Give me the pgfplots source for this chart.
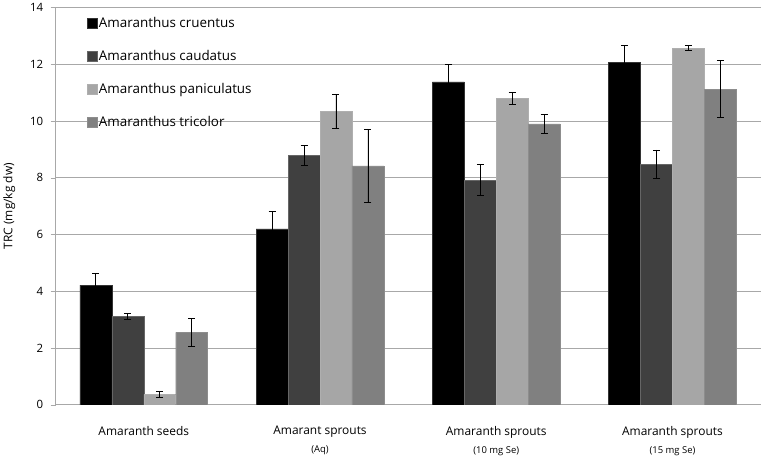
\documentclass[border=0pt]{standalone}
\usepackage{pgfplots}
\pgfplotsset{compat=1.18}
\usepackage{pgfplotstable}
\usepackage{fontspec}
\setmainfont{Open Sans}
\definecolor{cA}{HTML}{000000}
\definecolor{cB}{HTML}{404040}
\definecolor{cC}{HTML}{A6A6A6}
\definecolor{cD}{HTML}{808080}
\definecolor{gridc}{HTML}{A8A8A8}
\newcommand{\fsT}{\fontsize{11.5}{13}\selectfont}
\newcommand{\fsL}{\fontsize{13.5}{16}\selectfont}
\newcommand{\fsX}{\fontsize{12}{14}\selectfont}
\newcommand{\fsS}{\fontsize{9.5}{11}\selectfont}
\pgfplotstableread{
x y e
0 4.22 0.40
1 6.20 0.60
2 11.38 0.60
3 12.07 0.60
}\cruentus
\pgfplotstableread{
x y e
0 3.12 0.10
1 8.78 0.35
2 7.92 0.55
3 8.48 0.50
}\caudatus
\pgfplotstableread{
x y e
0 0.37 0.11
1 10.35 0.60
2 10.80 0.20
3 12.57 0.10
}\paniculatus
\pgfplotstableread{
x y e
0 2.55 0.50
1 8.42 1.30
2 9.90 0.33
3 11.12 1.00
}\tricolor
\begin{document}
\begin{tikzpicture}[x=1bp,y=1bp]
\begin{axis}[
  scale only axis,
  width=706bp, height=398bp,
  ybar=0pt, bar width=32bp,
  xmin=-0.5, xmax=3.5,
  ymin=0, ymax=14,
  ytick={0,2,...,14},
  xtick=data,
  xticklabels={{Amaranth seeds\\[4bp]{\fsS\phantom{(Aq)}}},{Amarant sprouts\\[4bp]{\fsS (Aq)}},{Amaranth sprouts\\[4bp]{\fsS (10 mg Se)}},{Amaranth sprouts\\[4bp]{\fsS (15 mg Se)}}},
  xticklabel style={align=center, font=\fsX, yshift=-13bp},
  yticklabel style={font=\fsT, xshift=-4bp},
  /pgf/number format/assume math mode=true,
  axis x line=bottom, axis y line=left,
  axis line style={gridc, -},
  x axis line style={draw=none},
  xtick style={draw=none},
  ytick style={gridc},
  tick align=outside,
  major tick length=5bp,
  ymajorgrids,
  grid style={gridc, line width=0.8bp},
  ylabel={TRC (mg/kg dw)},
  ylabel style={font=\fsX, yshift=8bp},
  legend style={at={(0.04,0.985)}, anchor=north west, draw=none, fill=none,
    font=\fsL, row sep=18.5bp, nodes={inner sep=1.5bp}},
  legend cell align=left,
  legend image code/.code={\fill[#1] (0bp,-5bp) rectangle (10bp,5bp);},
  error bars/y dir=both, error bars/y explicit,
  error bars/error bar style={black, line width=0.8bp},
  error bars/error mark options={rotate=90, mark size=3.5bp, line width=0.8bp, black},
]
\addplot[fill=cA, draw=cA!80!white] table[x=x, y=y, y error=e]{\cruentus};
\addlegendentry{Amaranthus cruentus}
\addplot[fill=cB, draw=cB!80!white] table[x=x, y=y, y error=e]{\caudatus};
\addlegendentry{Amaranthus caudatus}
\addplot[fill=cC, draw=cC!90!white] table[x=x, y=y, y error=e]{\paniculatus};
\addlegendentry{Amaranthus paniculatus}
\addplot[fill=cD, draw=cD!90!white] table[x=x, y=y, y error=e]{\tricolor};
\addlegendentry{Amaranthus tricolor}
\end{axis}
\end{tikzpicture}
\end{document}
